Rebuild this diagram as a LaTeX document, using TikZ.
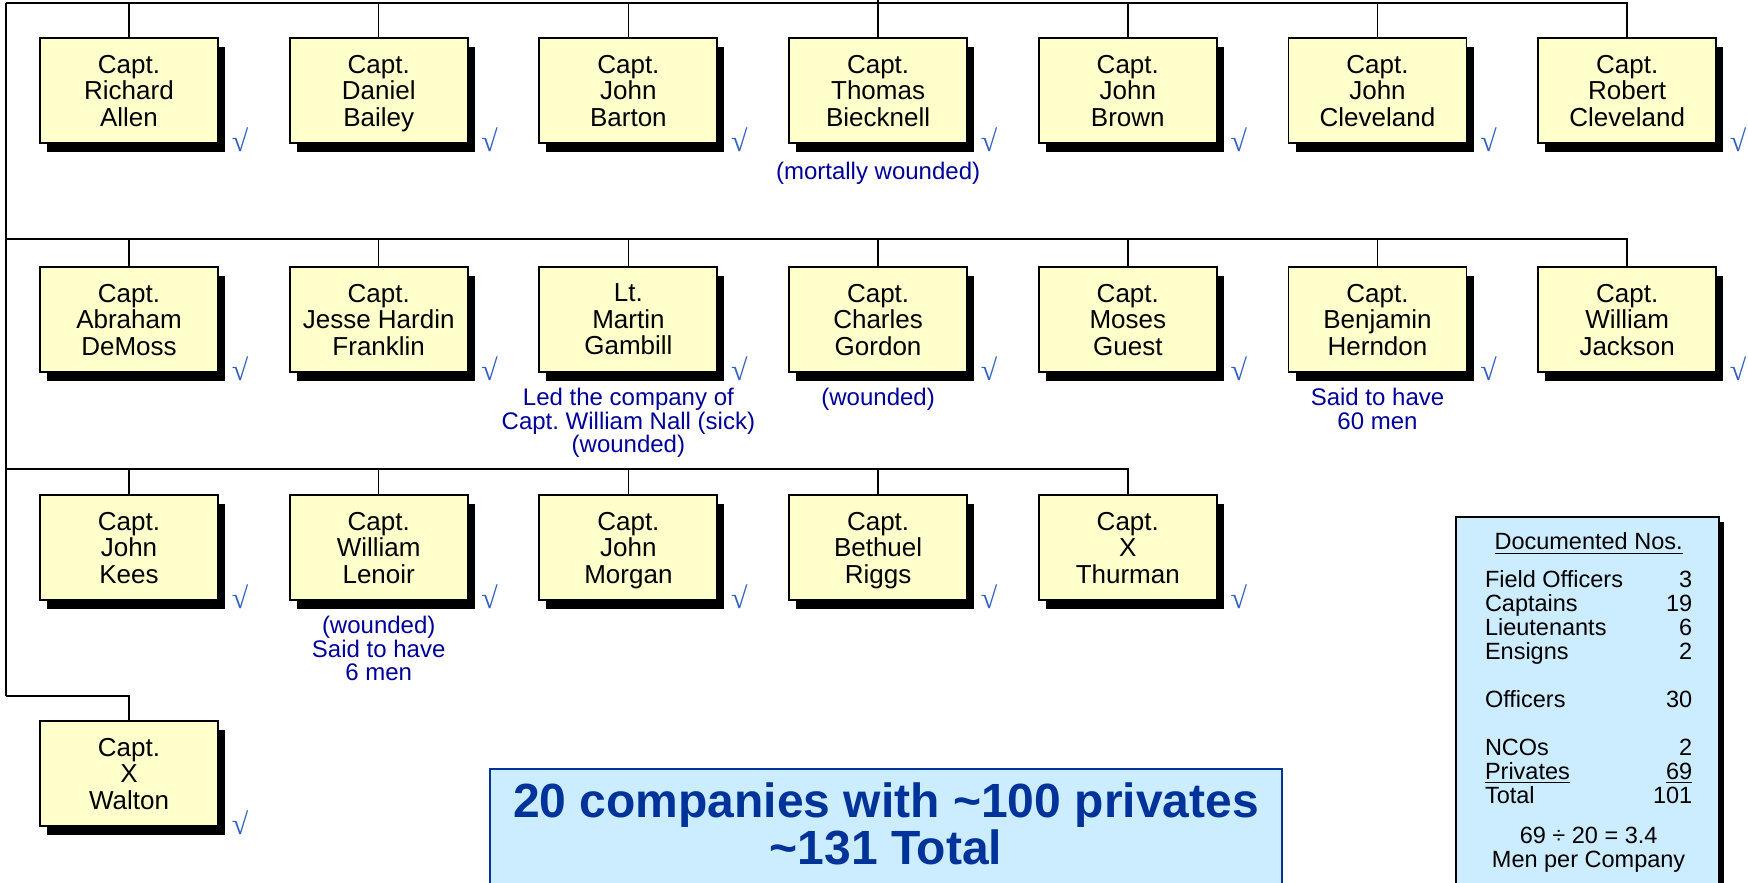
\documentclass[tikz,border=0pt]{standalone}
\usepackage{fontspec}
\setmainfont{Liberation Sans}
\newfontfamily\tickfont{Liberation Serif}
\usetikzlibrary{positioning,shadows}

\definecolor{captfill}{HTML}{FFFFCC}
\definecolor{sumfill}{HTML}{CCECFF}
\definecolor{notecol}{HTML}{000099}
\definecolor{tickcol}{HTML}{3060C0}
\definecolor{totalcol}{HTML}{003399}

\tikzset{
  capt/.style={draw, line width=0.75pt, fill=captfill, align=center,
    minimum width=71.2pt, minimum height=42pt, inner sep=0pt, text depth=0pt,
    font=\fontsize{10.4}{10.6}\selectfont,
    drop shadow={shadow xshift=2.8pt, shadow yshift=-3.6pt, fill=black, opacity=1}},
  link/.style={line width=0.6pt},
  tick/.style={text=tickcol, inner sep=0pt, font=\tickfont\fontsize{12}{12}\selectfont},
  note/.style={text=notecol, align=center, inner sep=0pt, font=\fontsize{9.6}{9.4}\selectfont},
  sumbox/.style={draw, line width=0.6pt, fill=sumfill, anchor=north west,
    minimum width=105.2pt, minimum height=160pt, inner sep=0pt,
    drop shadow={shadow xshift=2pt, shadow yshift=-2pt, fill=black, opacity=1}},
  totalbox/.style={draw=totalcol, line width=0.8pt, fill=sumfill, anchor=north,
    minimum width=316.8pt, minimum height=60pt, inner sep=0pt}
}

\begin{document}
\begin{tikzpicture}[x=0.4pt,y=-0.4pt]
    \useasboundingbox (0,0) rectangle (1748,882);

    % spine and row lines
    \coordinate (regiment) at (884,-5);
    \coordinate (row1) at (6,3);
    \coordinate (row2) at (6,239);
    \coordinate (row3) at (6,469);
    \coordinate (row4) at (6,696);

    % first row
    \foreach \name/\txt [count=\i from 0] in {allen/{Capt.\\Richard\\Allen}, bailey/{Capt.\\Daniel\\Bailey},
        barton/{Capt.\\John\\Barton}, biecknell/{Capt.\\Thomas\\Biecknell}, brown/{Capt.\\John\\Brown},
        jcleveland/{Capt.\\John\\Cleveland}, rcleveland/{Capt.\\Robert\\Cleveland}} {
        \node[capt] (\name) at ({129+249.7*\i},90.5) {\txt};
        \node[tick] (\name-ok) at ({240+249.7*\i},140) {√};
        \draw[link] (\name.north) -- (\name.north |- row1);
    }
    % second row
    \foreach \name/\txt [count=\i from 0] in {demoss/{Capt.\\Abraham\\DeMoss}, franklin/{Capt.\\Jesse Hardin\\Franklin},
        gambill/{Lt.\\Martin\\Gambill}, gordon/{Capt.\\Charles\\Gordon}, guest/{Capt.\\Moses\\Guest},
        herndon/{Capt.\\Benjamin\\Herndon}, jackson/{Capt.\\William\\Jackson}} {
        \node[capt] (\name) at ({129+249.7*\i},319.5) {\txt};
        \node[tick] (\name-ok) at ({240+249.7*\i},369) {√};
        \draw[link] (\name.north) -- (\name.north |- row2);
    }
    % third row
    \foreach \name/\txt [count=\i from 0] in {kees/{Capt.\\John\\Kees}, lenoir/{Capt.\\William\\Lenoir},
        morgan/{Capt.\\John\\Morgan}, riggs/{Capt.\\Bethuel\\Riggs}, thurman/{Capt.\\X\\Thurman}} {
        \node[capt] (\name) at ({129+249.7*\i},547.5) {\txt};
        \node[tick] (\name-ok) at ({240+249.7*\i},597) {√};
        \draw[link] (\name.north) -- (\name.north |- row3);
    }
    % last row
    \node[capt] (walton) at (129,773.5) {Capt.\\X\\Walton};
    \node[tick] (walton-ok) at (240,823) {√};

    \draw[link] (biecknell.north) -- (biecknell.north |- regiment);
    \draw[link] (row1) -- (row4);
    \draw[link] (row1) -| (rcleveland.north);
    \draw[link] (row2) -| (jackson.north);
    \draw[link] (row3) -| (thurman.north);
    \draw[link] (row4) -| (walton.north);

    % remarks
    \node[note, below=7pt of biecknell] (biecknell-note) {(mortally wounded)};
    \node[note, below=6pt of gambill] (gambill-note) {Led the company of\\Capt.\ William Nall (sick)\\(wounded)};
    \node[note, below=6pt of gordon] (gordon-note) {(wounded)};
    \node[note, below=6pt of herndon] (herndon-note) {Said to have\\60 men};
    \node[note, below=6pt of lenoir] (lenoir-note) {(wounded)\\Said to have\\6 men};

    % totals
    \node[totalbox] (total) at (886,768) {};
    \node[text=totalcol, align=center, inner sep=0pt, anchor=north,
        font=\bfseries\fontsize{19.2}{18.8}\selectfont] (total-text) at (886,782)
        {20 companies with \textasciitilde100 privates\\\textasciitilde131 Total};

    \node[sumbox] (docs) at (1455,516) {};
    \node[inner sep=0pt, anchor=north, font=\fontsize{9.4}{9.5}\selectfont] (docs-text) at (1585.5,532) {%
        \begin{tabular*}{80.4pt}{@{\extracolsep{\fill}}lr@{}}
        \multicolumn{2}{@{}c@{}}{\underline{Documented Nos.}}\\[5.4pt]
        Field Officers & 3\\
        Captains & 19\\
        Lieutenants & 6\\
        Ensigns & 2\\[9.5pt]
        Officers & 30\\[9.5pt]
        NCOs & 2\\
        \underline{Privates} & \underline{69}\\
        Total & 101\\[6.6pt]
        \multicolumn{2}{@{}c@{}}{69 ÷ 20 = 3.4}\\
        \multicolumn{2}{@{}c@{}}{Men per Company}
        \end{tabular*}};
\end{tikzpicture}
\end{document}
